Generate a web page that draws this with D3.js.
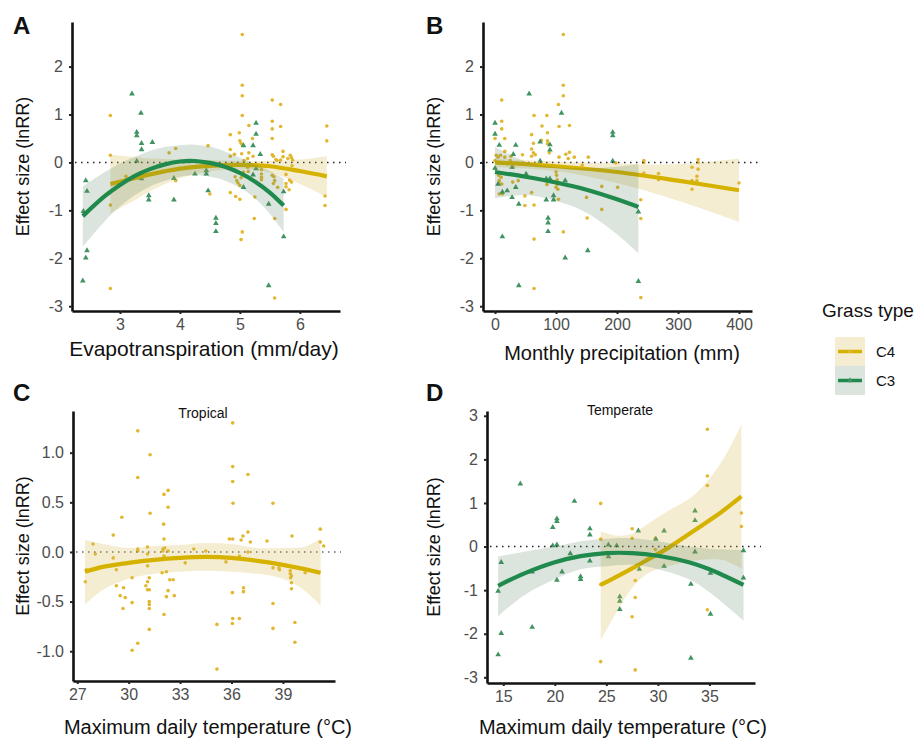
<!DOCTYPE html>
<html>
<head>
<meta charset="utf-8">
<script src="https://d3js.org/d3.v7.min.js"></script>
<style>
  html, body { margin: 0; padding: 0; background: #fff; }
  body { width: 917px; height: 740px; font-family: 'Liberation Sans', Arial, sans-serif; }
  .tick line { stroke: #222; stroke-width: 2; }
  .domain { stroke: #111; stroke-width: 2.6; }
  .ttl { fill: #111; }
  .tag { font-size: 24px; font-weight: bold; fill: #111; }
</style>
</head>
<body>
<div id="chart"></div>
<script>
// ---- data ----
// panel A: evapotranspiration (mm/day) vs lnRR
var evapC4 = [[2.84,0.98],[2.84,0.15],[2.84,-0.89],[2.84,-2.63],[3.1,-0.29],[3.82,0.2],[3.93,0.29],[3.93,-0.38],[4.47,0.35],[4.5,-0.66],
  [5.04,2.67],[5.04,1.61],[5.04,1.39],[5.04,0.98],[4.84,0.58],[4.99,0.62],[5.15,0.77],[5.21,0.5],[5.0,0.45],[5.02,0.4],[5.04,0.37],
  [4.84,0.27],[4.84,0.13],[4.91,0.17],[5.03,0.18],[5.15,0.2],[5.22,0.13],[5.13,0.08],[5.07,0.04],[4.84,-0.63],[4.93,-0.71],[5.0,-0.77],
  [4.92,-0.3],[4.95,-0.38],[4.97,-0.43],[5.0,-0.48],[5.02,-0.32],[5.06,-0.2],[5.14,-0.19],[5.13,-0.1],[5.25,-0.72],[5.24,-1.17],[5.04,-1.45],
  [5.02,-1.61],[5.36,-0.15],[5.36,-0.24],[5.36,-0.31],[5.36,-0.36],[5.54,1.3],[5.68,1.21],[5.54,0.86],[5.54,0.7],[5.68,0.75],[5.54,0.5],
  [5.72,0.23],[5.54,0.16],[5.56,0.13],[5.6,0.06],[5.62,0.04],[5.68,0.05],[5.72,0.12],[5.8,0.08],[5.84,0.15],[5.86,0.1],[5.88,0.05],
  [5.87,-0.07],[5.77,-0.25],[5.54,-0.27],[5.57,-0.3],[5.58,-0.38],[5.56,-0.44],[5.63,-0.52],[5.77,-0.44],[5.77,-0.51],[5.83,-0.37],
  [5.86,-0.41],[5.82,-0.57],[5.77,-0.98],[5.58,-1.17],[5.58,-2.83],[6.45,0.76],[6.45,0.45],[6.42,-0.7],[6.42,-0.9]];
var evapC3 = [[3.2,1.43],[3.35,1.03],[3.28,0.63],[3.28,0.56],[3.36,0.4],[3.36,0.27],[3.54,0.42],[3.28,0.03],[3.36,-0.34],[3.48,-0.69],
  [3.48,-0.78],[3.9,-0.78],[3.9,-0.33],[4.25,-0.24],[4.44,-0.17],[4.44,-0.24],[4.47,-0.59],[4.6,-1.16],[4.6,-1.27],[4.6,-1.44],
  [2.43,-0.38],[2.45,-0.6],[2.39,-1.02],[2.45,-1.84],[2.43,-1.99],[2.38,-2.47],[5.06,0.35],[5.22,0.35],[5.27,0.82],[5.27,0.59],
  [5.34,0.17],[5.22,-0.26],[5.06,-0.52],[5.27,-0.13],[5.48,-0.87],[5.73,-0.61],[5.73,-1.55],[5.48,-2.57]];
// fitted curves: [x, fit, lower, upper]
var evapC4Fit = [[2.84,-0.45,-1.06,0.16],[3.2,-0.34,-0.82,0.12],[3.5,-0.25,-0.6,0.08],[4.0,-0.13,-0.33,0.06],[4.5,-0.07,-0.19,0.05],
  [5.0,-0.05,-0.14,0.03],[5.5,-0.08,-0.21,0.03],[6.0,-0.18,-0.45,0.06],[6.45,-0.29,-0.72,0.13]];
var evapC3Fit = [[2.38,-1.12,-1.76,-0.5],[2.75,-0.7,-1.22,-0.2],[3.0,-0.47,-0.92,-0.02],[3.25,-0.28,-0.68,0.12],[3.5,-0.14,-0.5,0.24],
  [3.75,-0.04,-0.38,0.32],[4.0,0.02,-0.3,0.36],[4.25,0.03,-0.27,0.37],[4.5,-0.01,-0.3,0.33],[4.75,-0.09,-0.38,0.23],
  [5.0,-0.22,-0.53,0.1],[5.25,-0.4,-0.75,-0.04],[5.5,-0.63,-1.07,-0.18],[5.73,-0.9,-1.45,-0.34]];

// panel B: monthly precipitation (mm) vs lnRR
var precC4 = [[11,1.3],[11,0.86],[11,0.7],[16,0.5],[0,0.5],[0,-0.13],[2,0.15],[5,0.11],[0,0.04],[9,0.15],[16,0.11],[26,0.13],[25,0.04],
  [16,0.23],[8,-0.01],[6,-0.27],[7,-0.38],[10,-0.31],[8,-0.45],[11,-0.45],[7,-0.66],[12,-0.66],[21,-0.03],[29,-0.1],[29,-0.41],[38,-0.38],
  [38,-0.27],[45,0.16],[49,-0.7],[49,-0.9],[60,-0.63],[64,-0.89],[64,-1.6],[64,-2.63],[60,0.58],[64,0.98],[60,0.28],[63,0.2],[66,0.16],
  [60,0.13],[63,0.4],[77,0.76],[76,0.46],[85,0.98],[86,0.62],[86,0.45],[86,0.39],[89,0.2],[85,-0.46],[100,-0.2],[101,-0.27],[102,-0.36],
  [102,-0.46],[100,-0.52],[103,-0.56],[104,-0.77],[105,0.11],[104,1.21],[105,0.75],[112,1.61],[112,1.39],[112,2.67],[112,-1.45],[116,0.17],
  [120,0.08],[122,0.21],[122,0.77],[130,0.11],[120,-0.11],[143,-0.06],[153,0.11],[150,-0.73],[151,-1.16],[175,-0.98],[175,-0.5],[198,-0.01],
  [201,-0.52],[239,-0.78],[239,-1.17],[239,-2.82],[244,0.04],[244,0.0],[244,-0.22],[268,-0.23],[268,-0.36],[323,-0.1],[333,0.06],[333,0.0],
  [333,-0.14],[331,-0.29],[331,-0.38],[323,-0.38],[323,-0.56],[400,-0.43]];
var precC3 = [[0,0.82],[0,0.59],[0,-0.12],[7,0.36],[5,-0.45],[12,-0.62],[20,-0.59],[12,-1.55],[30,0.17],[28,-0.1],[34,0.36],[34,-0.52],
  [28,-0.73],[39,-0.87],[39,-2.57],[51,-0.24],[56,1.43],[74,0.43],[90,0.37],[90,0.26],[74,0.03],[84,-0.34],[90,-0.34],[84,-0.78],
  [96,-0.69],[96,-0.78],[87,-1.16],[87,-1.26],[87,-1.44],[109,1.03],[115,-0.38],[115,-1.99],[152,-1.84],[193,0.63],[193,0.56],[193,0.03],
  [235,-1.03],[235,-2.48]];
var precC4Fit = [[0,0.0,-0.1,0.08],[100,-0.08,-0.18,0.02],[200,-0.2,-0.43,-0.02],[300,-0.38,-0.8,-0.04],[400,-0.58,-1.24,0.08]];
var precC3Fit = [[0,-0.2,-0.75,0.32],[50,-0.3,-0.68,0.02],[100,-0.42,-0.8,-0.1],[150,-0.57,-1.05,-0.12],[200,-0.77,-1.5,-0.09],[235,-0.93,-1.9,-0.04]];

// panel C: tropical, maximum daily temperature (°C) vs lnRR
var tropC4 = [[27.47,-0.3],[27.53,-0.18],[27.92,0.08],[28.05,-0.02],[29.1,0.17],[29.1,-0.06],[29.28,-0.18],[29.28,-0.34],[29.6,0.35],
  [29.7,-0.36],[29.5,-0.44],[29.8,-0.46],[29.67,-0.57],[30.2,-0.26],[30.2,-0.51],[30.2,-0.99],[30.53,1.22],[30.53,0.75],[30.53,0.03],
  [30.53,0.01],[30.53,-0.92],[31.1,0.05],[31.25,0.98],[31.25,0.39],[31.0,-0.34],[31.1,-0.3],[31.2,-0.26],[31.1,-0.14],[31.1,-0.38],
  [31.2,-0.38],[31.2,-0.5],[31.2,-0.53],[31.2,-0.57],[31.2,-0.78],[31.1,-0.02],[32.0,0.03],[32.0,0.01],[32.1,0.04],[32.06,0.13],
  [32.04,0.28],[32.06,0.58],[32.3,0.62],[32.3,0.45],[32.06,-0.04],[31.95,-0.21],[32.2,-0.2],[32.4,-0.28],[32.6,-0.28],[32.66,-0.44],
  [32.2,-0.45],[32.3,-0.39],[32.06,-0.63],[32.3,0.01],[33.3,-0.11],[33.8,0.03],[34.5,0.01],[35.15,-0.73],[35.15,-1.18],[35.68,-0.1],
  [35.88,0.13],[36.07,0.13],[36.07,1.3],[36.07,0.86],[36.07,0.71],[36.09,0.49],[36.05,-0.41],[36.07,-0.67],[36.05,-0.72],[36.46,-0.67],
  [36.46,-0.04],[36.56,0.12],[36.67,0.16],[36.7,-0.36],[36.7,-0.4],[36.96,0.2],[36.96,0.78],[37.1,0.1],[36.96,0.0],[38.07,0.11],
  [38.42,0.49],[38.42,-0.16],[38.42,-0.52],[38.42,-0.77],[38.77,-0.16],[38.8,-0.18],[39.43,-0.19],[39.43,-0.22],[39.45,-0.26],
  [39.5,-0.24],[39.5,-0.31],[39.5,-0.37],[39.53,0.16],[39.7,-0.71],[39.7,-0.91],[40.3,-0.21],[41.18,0.23],[41.18,0.1],[41.38,0.06]];
var tropC4Fit = [[27.45,-0.2,-0.53,0.12],[28.5,-0.15,-0.38,0.08],[30,-0.11,-0.27,0.04],[31.5,-0.08,-0.22,0.06],[33,-0.06,-0.2,0.07],
  [34.5,-0.05,-0.19,0.09],[36,-0.06,-0.2,0.08],[37.5,-0.09,-0.22,0.04],[39,-0.13,-0.27,0.04],[40.2,-0.17,-0.38,0.05],[41.2,-0.21,-0.54,0.13]];

// panel D: temperate, maximum daily temperature (°C) vs lnRR
var tempC4 = [[24.45,0.99],[24.45,0.17],[24.45,-0.87],[24.45,-2.64],[27.5,0.41],[27.5,0.19],[27.5,-1.61],[27.8,-0.78],[27.8,-1.17],
  [27.8,-2.83],[29.75,0.19],[29.75,-0.07],[34.8,2.69],[34.8,1.62],[34.8,1.4],[34.8,-1.45],[38.1,0.77],[38.1,0.46]];
var tempC3 = [[14.5,-2.48],[14.8,-1.99],[14.5,-1.02],[14.8,-0.36],[16.65,1.44],[17.8,-1.85],[17.8,-0.58],[19.8,0.44],[19.8,0.02],
  [20.2,0.64],[20.2,0.58],[20.2,0.04],[20.2,-0.77],[20.7,-0.58],[21.5,-0.16],[21.9,1.04],[22.5,-0.69],[22.5,-0.75],[23.4,0.41],
  [23.4,0.27],[23.4,-0.33],[25.2,0.04],[25.2,-0.23],[26.0,0.02],[26.3,-1.15],[26.3,-1.25],[26.3,-1.44],[28.1,0.36],[28.2,-0.52],
  [29.8,0.17],[30.6,0.36],[30.6,-0.45],[33.2,-0.86],[33.2,-2.56],[33.6,0.82],[33.6,0.6],[33.6,-0.12],[35.1,-0.61],[35.1,-1.55],
  [38.3,-0.09],[38.3,-0.72]];
var tempC4Fit = [[24.45,-0.88,-2.15,0.35],[26,-0.69,-1.5,0.25],[27.5,-0.5,-0.95,0.3],[29,-0.3,-0.62,0.52],[31,-0.03,-0.45,0.82],
  [33.6,0.38,-0.32,1.2],[36.2,0.8,-0.3,1.95],[38.1,1.15,-0.5,2.8]];
var tempC3Fit = [[14.5,-0.9,-1.6,-0.23],[17,-0.62,-1.12,-0.12],[20,-0.36,-0.75,0.0],[22.5,-0.22,-0.52,0.12],[25,-0.15,-0.45,0.18],
  [27.5,-0.15,-0.42,0.19],[30,-0.21,-0.52,0.12],[33,-0.36,-0.75,0.0],[35,-0.52,-1.05,-0.05],[38.3,-0.88,-1.7,-0.08]];

var grassTypes = ["C4", "C3"];
var colC4 = "#d6b200", colC3 = "#1f8a4c";
var ptC4 = "#e2b730", ptC3 = "#3f9462";
var ribC4 = "#d9b648", ribC3 = "#4a7a55";

var svg = d3.select("#chart").append("svg")
  .attr("width", 917).attr("height", 740);

function panel(cfg) {
  var x = d3.scaleLinear().domain(cfg.xd).range([cfg.left, cfg.right]);
  var y = d3.scaleLinear().domain(cfg.yd).range([cfg.bottom, cfg.top]);
  var g = svg.append("g");

  // points
  (cfg.c4 || []).forEach(function(d) {
    g.append("circle").attr("cx", x(d[0])).attr("cy", y(d[1])).attr("r", 1.8).attr("fill", ptC4);
  });
  var tri = d3.symbol().type(d3.symbolTriangle).size(14);
  (cfg.c3 || []).forEach(function(d) {
    g.append("path").attr("d", tri).attr("transform", "translate(" + x(d[0]) + "," + y(d[1]) + ")").attr("fill", ptC3);
  });

  // zero reference line
  g.append("line").attr("x1", cfg.left + 3).attr("x2", cfg.right + 6)
    .attr("y1", y(0)).attr("y2", y(0))
    .attr("stroke", cfg.zeroCol || "#222").attr("stroke-width", 1.4)
    .attr("stroke-dasharray", "1.5 4.5");

  // fits
  var fits = [[cfg.c4Fit, ribC4, colC4, 0.25], [cfg.c3Fit, ribC3, colC3, 0.2]];
  fits.forEach(function(f) {
    if (!f[0]) return;
    var area = d3.area().curve(d3.curveCatmullRom)
      .x(function(d) { return x(d[0]); })
      .y0(function(d) { return y(d[2]); })
      .y1(function(d) { return y(d[3]); });
    g.append("path").datum(f[0]).attr("d", area).attr("fill", f[1]).attr("fill-opacity", f[3]);
    var line = d3.line().curve(d3.curveCatmullRom)
      .x(function(d) { return x(d[0]); })
      .y(function(d) { return y(d[1]); });
    g.append("path").datum(f[0]).attr("d", line).attr("fill", "none")
      .attr("stroke", f[2]).attr("stroke-width", 4.2);
  });

  // axes
  var ya = g.append("g").attr("transform", "translate(" + cfg.left + ",0)")
    .call(d3.axisLeft(y).tickValues(cfg.yticks).tickSize(3).tickSizeOuter(0).tickPadding(6).tickFormat(cfg.yfmt));
  var xa = g.append("g").attr("transform", "translate(0," + cfg.bottom + ")")
    .call(d3.axisBottom(x).tickValues(cfg.xticks).tickSize(3).tickSizeOuter(0).tickPadding(5).tickFormat(cfg.xfmt));
  [ya, xa].forEach(function(a) {
    a.attr("font-family", "'Liberation Sans', Arial, sans-serif");
    a.selectAll(".tick text").attr("font-size", 16).attr("fill", "#4d4d4d");
  });

  // titles
  g.append("text").attr("class", "tag").attr("x", cfg.tagX).attr("y", cfg.tagY).text(cfg.tag);
  g.append("text").attr("class", "ttl").attr("text-anchor", "middle").attr("font-size", 18)
    .attr("transform", "translate(" + cfg.ylabX + "," + ((cfg.top + cfg.bottom) / 2) + ") rotate(-90)")
    .text("Effect size (lnRR)");
  g.append("text").attr("class", "ttl").attr("text-anchor", "middle").attr("font-size", cfg.xlabSize)
    .attr("x", cfg.xlabCX).attr("y", cfg.xlabY).text(cfg.xlab);
  if (cfg.sub) {
    g.append("text").attr("text-anchor", "middle").attr("x", cfg.subX).attr("y", cfg.subY)
      .attr("font-size", 14).attr("fill", "#111").text(cfg.sub);
  }
}

var intFmt = function(v) { return String(v); };
var oneFmt = function(v) { return v.toFixed(1); };

panel({ left: 72, right: 340, top: 22, bottom: 311, xd: [2.2, 6.67], yd: [-3.1, 2.93],
  xticks: [3, 4, 5, 6], yticks: [-3, -2, -1, 0, 1, 2], xfmt: intFmt, yfmt: intFmt,
  c4: evapC4, c3: evapC3, c4Fit: evapC4Fit, c3Fit: evapC3Fit,
  tag: "A", tagX: 13, tagY: 34, ylabX: 29, xlab: "Evapotranspiration (mm/day)", xlabCX: 204, xlabY: 356, xlabSize: 21 });

panel({ left: 483, right: 752, top: 22, bottom: 311, xd: [-19.7, 421.3], yd: [-3.1, 2.93],
  xticks: [0, 100, 200, 300, 400], yticks: [-3, -2, -1, 0, 1, 2], xfmt: intFmt, yfmt: intFmt,
  c4: precC4, c3: precC3, c4Fit: precC4Fit, c3Fit: precC3Fit,
  tag: "B", tagX: 426, tagY: 34, ylabX: 440, xlab: "Monthly precipitation (mm)", xlabCX: 622, xlabY: 360, xlabSize: 20 });

panel({ left: 73, right: 335, top: 411, bottom: 681, xd: [26.75, 42.04], yd: [-1.3, 1.42],
  xticks: [27, 30, 33, 36, 39], yticks: [-1, -0.5, 0, 0.5, 1], xfmt: intFmt, yfmt: oneFmt,
  c4: tropC4, c4Fit: tropC4Fit, zeroCol: "#666",
  tag: "C", tagX: 13, tagY: 401, ylabX: 29, xlab: "Maximum daily temperature (°C)", xlabCX: 208, xlabY: 734, xlabSize: 20,
  sub: "Tropical", subX: 203, subY: 418 });

panel({ left: 487, right: 755, top: 411, bottom: 683, xd: [13.42, 39.42], yd: [-3.13, 3.11],
  xticks: [15, 20, 25, 30, 35], yticks: [-3, -2, -1, 0, 1, 2, 3], xfmt: intFmt, yfmt: intFmt,
  c4: tempC4, c3: tempC3, c4Fit: tempC4Fit, c3Fit: tempC3Fit,
  tag: "D", tagX: 426, tagY: 401, ylabX: 440, xlab: "Maximum daily temperature (°C)", xlabCX: 623, xlabY: 734, xlabSize: 20,
  sub: "Temperate", subX: 620, subY: 415 });

// legend
var leg = svg.append("g");
leg.append("text").attr("x", 822).attr("y", 317).attr("font-size", 19).attr("fill", "#111").text("Grass type");
grassTypes.forEach(function(t, i) {
  var yy = 337 + i * 29;
  var rib = t === "C4" ? ribC4 : ribC3;
  var col = t === "C4" ? colC4 : colC3;
  leg.append("rect").attr("x", 835).attr("y", yy).attr("width", 30).attr("height", 29)
    .attr("fill", rib).attr("fill-opacity", t === "C4" ? 0.25 : 0.2);
  leg.append("line").attr("x1", 838).attr("x2", 862).attr("y1", yy + 14.5).attr("y2", yy + 14.5)
    .attr("stroke", col).attr("stroke-width", 3.5);
  if (t === "C4") {
    leg.append("circle").attr("cx", 850).attr("cy", yy + 14.5).attr("r", 1.8).attr("fill", ptC4);
  } else {
    leg.append("path").attr("d", d3.symbol().type(d3.symbolTriangle).size(14))
      .attr("transform", "translate(850," + (yy + 14.5) + ")").attr("fill", ptC3);
  }
  leg.append("text").attr("x", 876).attr("y", yy + 20).attr("font-size", 15).attr("fill", "#111").text(t);
});
</script>
</body>
</html>
